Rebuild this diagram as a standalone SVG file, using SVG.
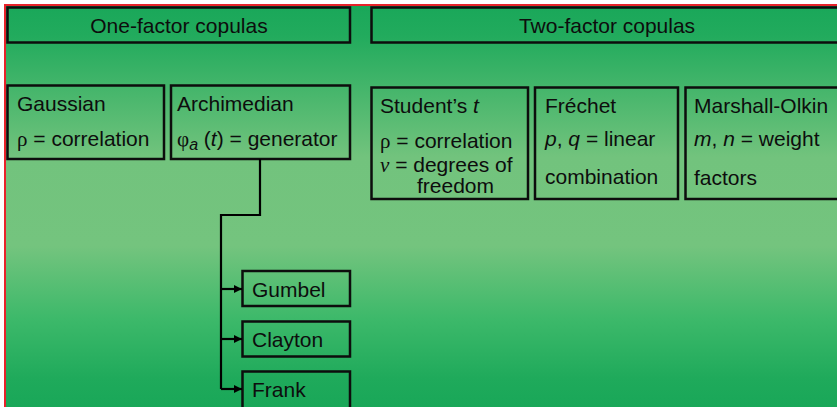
<svg xmlns="http://www.w3.org/2000/svg" width="837" height="407" viewBox="0 0 837 407">
  <defs>
    <linearGradient id="bg" x1="0" y1="4" x2="0" y2="407" gradientUnits="userSpaceOnUse">
      <stop offset="0" stop-color="#19a759"/>
      <stop offset="0.08" stop-color="#22ab5d"/>
      <stop offset="0.38" stop-color="#72c37d"/>
      <stop offset="0.6" stop-color="#74c47e"/>
      <stop offset="0.78" stop-color="#3db96a"/>
      <stop offset="0.93" stop-color="#1faa5b"/>
      <stop offset="1" stop-color="#19a758"/>
    </linearGradient>
    <marker id="arr" viewBox="0 0 8 8" refX="8" refY="4" markerWidth="8" markerHeight="8" markerUnits="userSpaceOnUse" orient="auto">
      <path d="M0,0 L8,4 L0,8 Z" fill="#000"/>
    </marker>
    <style>
      .box { fill: none; stroke: #0d0d0d; stroke-width: 2.5; }
      .t { font-family: "Liberation Sans", Arial, sans-serif; font-size: 21px; fill: #0d0d0d; }
      .g { font-family: "Liberation Serif", "Times New Roman", serif; }
      .mid { text-anchor: middle; }
      .conn { fill: none; stroke: #000; stroke-width: 2.2; }
    </style>
  </defs>

  <!-- background panel with red frame on top and left -->
  <rect x="4" y="4" width="833" height="403" fill="url(#bg)"/>
  <rect x="4" y="4" width="833" height="2" fill="#e8222a"/>
  <rect x="4" y="4" width="2" height="403" fill="#e8222a"/>

  <g id="one-factor">
    <rect class="box" x="7.5" y="7.5" width="342.5" height="35"/>
    <text class="t mid" x="179" y="32.5">One-factor copulas</text>
  </g>

  <g id="two-factor">
    <rect class="box" x="371.5" y="7.5" width="470" height="35"/>
    <text class="t mid" x="607" y="32.5">Two-factor copulas</text>
  </g>

  <g id="gaussian">
    <rect class="box" x="7.5" y="85.5" width="156.5" height="73.5"/>
    <text class="t" x="17" y="111">Gaussian</text>
    <text class="t" x="17" y="145.5"><tspan class="g">ρ</tspan> = correlation</text>
  </g>

  <g id="archimedian">
    <rect class="box" x="171" y="85.5" width="179" height="73.5"/>
    <text class="t" x="177" y="111">Archimedian</text>
    <text class="t" x="177" y="145.5"><tspan class="g">φ</tspan><tspan font-style="italic" font-size="16" dy="4">a</tspan><tspan dy="-4"> (</tspan><tspan font-style="italic">t</tspan>) = generator</text>
  </g>

  <g id="student-t">
    <rect class="box" x="371.5" y="87.5" width="156.5" height="111.5"/>
    <text class="t" x="380" y="113">Student’s <tspan font-style="italic">t</tspan></text>
    <text class="t" x="380" y="148"><tspan class="g">ρ</tspan> = correlation</text>
    <text class="t" x="380" y="172"><tspan class="g" font-style="italic">ν</tspan> = degrees of</text>
    <text class="t" x="417" y="193">freedom</text>
  </g>

  <g id="frechet">
    <rect class="box" x="535" y="87.5" width="143" height="111.5"/>
    <text class="t" x="545" y="113">Fréchet</text>
    <text class="t" x="545" y="146"><tspan font-style="italic">p</tspan>, <tspan font-style="italic">q</tspan> = linear</text>
    <text class="t" x="545" y="183.5">combination</text>
  </g>

  <g id="marshall-olkin">
    <rect class="box" x="685.5" y="87.5" width="156" height="111.5"/>
    <text class="t" x="694" y="113">Marshall-Olkin</text>
    <text class="t" x="694" y="146"><tspan font-style="italic">m</tspan>, <tspan font-style="italic">n</tspan> = weight</text>
    <text class="t" x="694" y="185">factors</text>
  </g>

  <g id="gumbel">
    <rect class="box" x="242.5" y="271" width="107.5" height="35"/>
    <text class="t" x="252" y="297">Gumbel</text>
  </g>

  <g id="clayton">
    <rect class="box" x="242.5" y="321.5" width="107.5" height="35"/>
    <text class="t" x="252" y="347">Clayton</text>
  </g>

  <g id="frank">
    <rect class="box" x="242.5" y="371.5" width="107.5" height="40"/>
    <text class="t" x="252" y="397">Frank</text>
  </g>

  <g id="connectors">
    <polyline class="conn" points="260,159 260,215 221,215 221,389"/>
    <line class="conn" x1="221" y1="289" x2="242" y2="289" marker-end="url(#arr)"/>
    <line class="conn" x1="221" y1="339" x2="242" y2="339" marker-end="url(#arr)"/>
    <line class="conn" x1="221" y1="389" x2="242" y2="389" marker-end="url(#arr)"/>
  </g>
</svg>
